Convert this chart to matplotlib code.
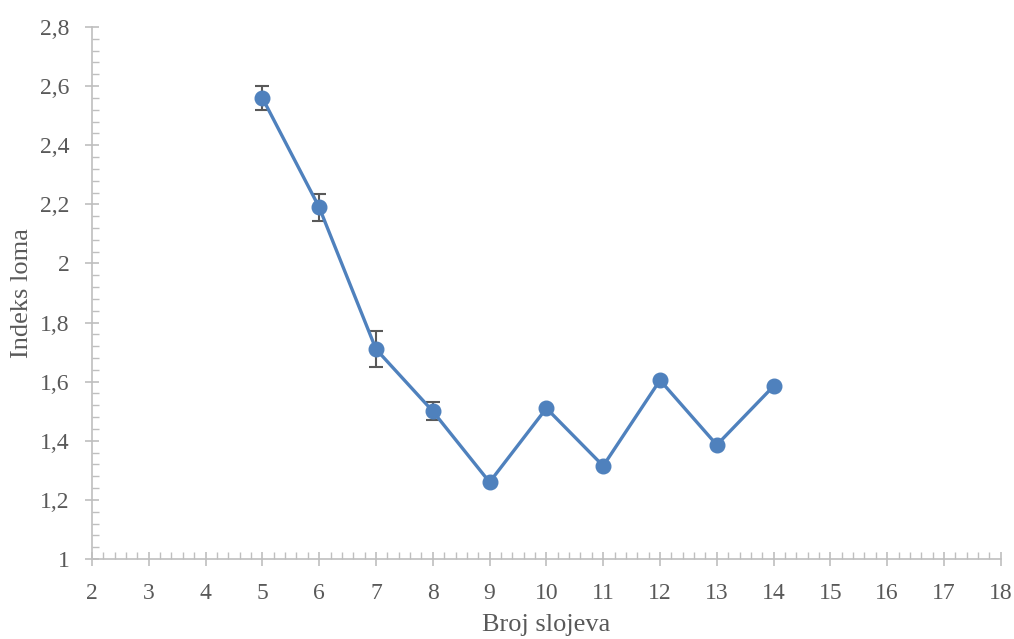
import matplotlib
matplotlib.use("Agg")
import matplotlib.pyplot as plt
from matplotlib.ticker import MultipleLocator, FuncFormatter

x_vals = [5, 6, 7, 8, 9, 10, 11, 12, 13, 14]
y_vals = [2.56, 2.19, 1.71, 1.50, 1.26, 1.51, 1.315, 1.605, 1.386, 1.585]
y_err = [0.04, 0.045, 0.06, 0.03, 0, 0, 0, 0, 0, 0]
x_label = "Broj slojeva"
y_label = "Indeks loma"

plt.rcParams['font.family'] = ['Liberation Serif', 'DejaVu Serif']

fig = plt.figure(figsize=(10.14, 6.39), dpi=100)
ax = fig.add_axes([0.0907, 0.1252, 0.8963, 0.8325])

line_color = '#4f81bd'
err_x = [x for x, e in zip(x_vals, y_err) if e > 0]
err_y = [y for y, e in zip(y_vals, y_err) if e > 0]
err_e = [e for e in y_err if e > 0]
ax.errorbar(err_x, err_y, yerr=err_e, fmt='none', ecolor='#595959',
            elinewidth=1.5, capsize=5, capthick=1.5, zorder=2)
ax.plot(x_vals, y_vals, color=line_color, lw=2.4, marker='o', ms=10.5,
        markeredgecolor=line_color, zorder=3)

ax.set_xlim(2, 18)
ax.set_ylim(1, 2.8)
ax.xaxis.set_major_locator(MultipleLocator(1))
ax.xaxis.set_minor_locator(MultipleLocator(0.2))
ax.yaxis.set_major_locator(MultipleLocator(0.2))
ax.yaxis.set_minor_locator(MultipleLocator(0.04))

def fmt(v, pos):
    s = ('%.1f' % v)
    if s.endswith('.0'):
        s = s[:-2]
    return s.replace('.', ',')
ax.yaxis.set_major_formatter(FuncFormatter(fmt))

axis_col = '#bfbfbf'
for s in ['top', 'right']:
    ax.spines[s].set_visible(False)
for s in ['left', 'bottom']:
    ax.spines[s].set_color(axis_col)
    ax.spines[s].set_linewidth(1.2)

ax.tick_params(which='major', direction='inout', length=10, width=1.2,
               color=axis_col, labelcolor='#595959', labelsize=17)
ax.tick_params(which='minor', direction='in', length=5, width=1.0, color=axis_col)
ax.tick_params(axis='x', which='major', pad=12)
ax.tick_params(axis='y', which='major', pad=11)

ax.set_xlabel(x_label, fontsize=19, color='#595959', labelpad=7.5)
ax.set_ylabel(y_label, fontsize=19, color='#595959', labelpad=5)

fig.savefig('out.png', dpi=100, facecolor='white')
